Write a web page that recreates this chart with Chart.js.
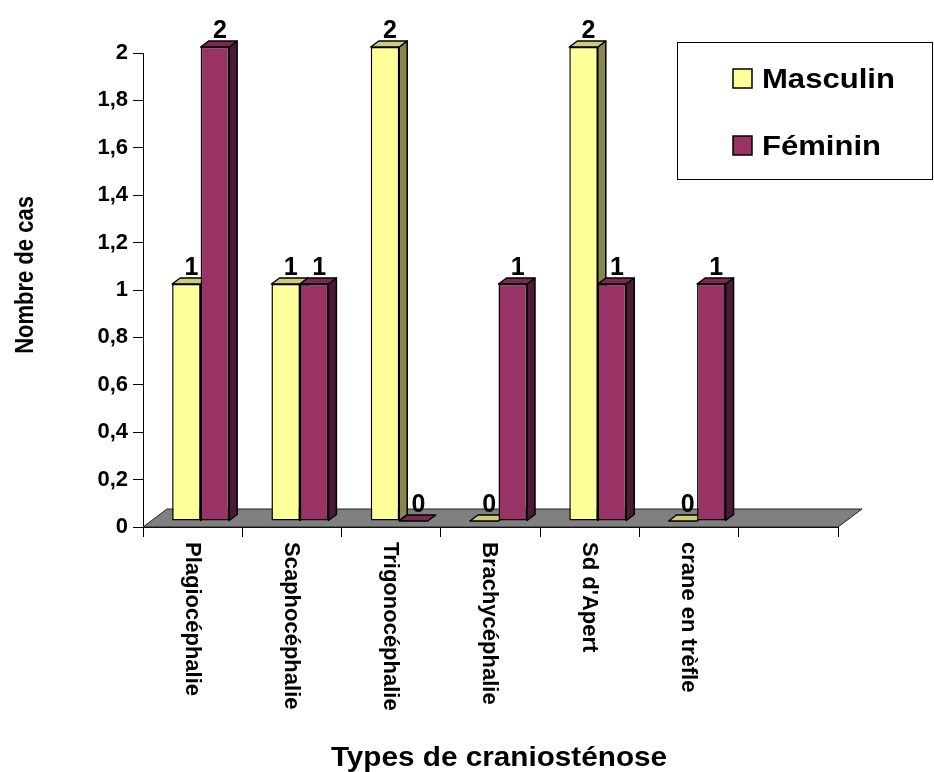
<!DOCTYPE html>
<html><head><meta charset="utf-8">
<script src="https://cdn.jsdelivr.net/npm/chart.js@4"></script>
<style>html,body{margin:0;padding:0;background:#fff}#wrap{width:934px;height:772px;position:relative}</style>
</head><body><div id="wrap"><canvas id="c"></canvas></div>
<script>
// ---- data ----
const categories = ['Plagiocéphalie', 'Scaphocéphalie', 'Trigonocéphalie', 'Brachycéphalie', "Sd d'Apert", 'crane en trèfle', ''];
const masculin = [1, 1, 2, 0, 2, 0, null];
const feminin = [2, 1, 0, 1, 1, 1, null];
const seriesNames = ['Masculin', 'Féminin'];
const yTickLabels = ['0', '0,2', '0,4', '0,6', '0,8', '1', '1,2', '1,4', '1,6', '1,8', '2'];
const xTitle = 'Types de craniosténose';
const yTitle = 'Nombre de cas';

// ---- style ----
const FONT = "'Liberation Sans', Arial, sans-serif";
const DX = 8, DY = -6;      // bar depth
const FDX = 24, FDY = -18;  // floor depth

function poly(ctx, pts, fill) {
  ctx.beginPath();
  ctx.moveTo(pts[0][0], pts[0][1]);
  for (let i = 1; i < pts.length; i++) ctx.lineTo(pts[i][0], pts[i][1]);
  ctx.closePath();
  ctx.fillStyle = fill; ctx.fill();
  ctx.strokeStyle = '#000'; ctx.lineWidth = 1.5; ctx.lineJoin = 'round'; ctx.stroke();
}
function stretchText(ctx, t, x, y, sx) {
  ctx.save(); ctx.translate(x, y); ctx.scale(sx, 1); ctx.fillText(t, 0, 0); ctx.restore();
}

const pseudo3d = {
  id: 'pseudo3d',
  beforeDatasetsDraw(chart) {
    const ctx = chart.ctx, a = chart.chartArea;
    ctx.save();
    ctx.beginPath();
    ctx.moveTo(a.left, a.bottom); ctx.lineTo(a.right, a.bottom);
    ctx.lineTo(a.right + FDX, a.bottom + FDY); ctx.lineTo(a.left + FDX, a.bottom + FDY);
    ctx.closePath();
    ctx.fillStyle = '#808080'; ctx.fill();
    ctx.strokeStyle = '#222'; ctx.lineWidth = 1; ctx.stroke();
    ctx.restore();
    ctx.save();
    ctx.translate(DX, DY);
    const n = chart.data.labels.length;
    for (let i = 0; i < n; i++) {
      chart.data.datasets.forEach((ds, di) => {
        const el = chart.getDatasetMeta(di).data[i];
        if (!el || ds.data[i] == null) return;
        const { x, y, base, width } = el.getProps(['x', 'y', 'base', 'width'], true);
        const l = x - width / 2, r = x + width / 2;
        if (base - y > 0.5) poly(ctx, [[r, y], [r + DX, y + DY], [r + DX, base + DY], [r, base]], ds.sideColor);
        poly(ctx, [[l, y], [l + DX, y + DY], [r + DX, y + DY], [r, y]], ds.topColor);
      });
    }
  },
  afterDatasetsDraw(chart) {
    const ctx = chart.ctx;
    ctx.font = `bold 25px ${FONT}`;
    ctx.fillStyle = '#000';
    ctx.textAlign = 'center';
    ctx.textBaseline = 'alphabetic';
    chart.data.datasets.forEach((ds, di) => {
      chart.getDatasetMeta(di).data.forEach((el, i) => {
        const v = ds.data[i];
        if (v == null) return;
        const { x, y } = el.getProps(['x', 'y'], true);
        ctx.fillText(String(v), x + 5, y + DY - 3);
      });
    });
    ctx.restore();
  },
  afterDraw(chart) {
    const ctx = chart.ctx, xs = chart.scales.x;
    ctx.save();
    ctx.fillStyle = '#000';
    ctx.font = `bold 22px ${FONT}`;
    chart.data.labels.forEach((lab, i) => {
      if (!lab) return;
      ctx.save();
      ctx.translate(xs.getPixelForValue(i) - 1, 542);
      ctx.rotate(Math.PI / 2);
      ctx.textAlign = 'left'; ctx.textBaseline = 'middle';
      ctx.fillText(lab, 0, 0);
      ctx.restore();
    });
    ctx.font = `bold 27px ${FONT}`;
    ctx.textAlign = 'center'; ctx.textBaseline = 'alphabetic';
    stretchText(ctx, xTitle, 499, 766, 1.1);
    ctx.save();
    ctx.translate(33, 275);
    ctx.scale(1.2, 1);
    ctx.rotate(-Math.PI / 2);
    ctx.font = `bold 22px ${FONT}`;
    ctx.fillText(yTitle, 0, 0);
    ctx.restore();
    ctx.strokeStyle = '#000'; ctx.lineWidth = 1;
    ctx.strokeRect(677.5, 42.5, 255, 137);
    const ys = [69, 136];
    ctx.font = `bold 27px ${FONT}`;
    ctx.textAlign = 'left';
    chart.data.datasets.forEach((ds, di) => {
      ctx.fillStyle = ds.backgroundColor;
      ctx.fillRect(733, ys[di], 19, 19);
      ctx.strokeStyle = '#000'; ctx.lineWidth = 1.5;
      ctx.strokeRect(733, ys[di], 19, 19);
      ctx.fillStyle = '#000';
      stretchText(ctx, ds.label, 762, ys[di] + 19, 1.15);
    });
    ctx.restore();
  }
};

new Chart(document.getElementById('c'), {
  type: 'bar',
  data: {
    labels: categories,
    datasets: [
      { label: seriesNames[0], data: masculin, backgroundColor: '#FFFF99', topColor: '#CCCC7A', sideColor: '#86864F',
        borderColor: '#000', borderWidth: 1.5, borderSkipped: false, clip: false },
      { label: seriesNames[1], data: feminin, backgroundColor: '#993366', topColor: '#7A2952', sideColor: '#4C1A36',
        borderColor: '#000', borderWidth: 1.5, borderSkipped: false, clip: false }
    ]
  },
  options: {
    responsive: true,
    maintainAspectRatio: false,
    animation: false,
    events: [],
    datasets: { bar: { barPercentage: 1, categoryPercentage: 0.574 } },
    layout: { padding: { top: 53, right: 96, left: 0, bottom: 0 } },
    plugins: { legend: { display: false }, tooltip: { enabled: false }, title: { display: false } },
    scales: {
      x: {
        offset: true,
        grid: { offset: true, drawOnChartArea: false, drawTicks: true, tickLength: 10, color: '#000', lineWidth: 1 },
        border: { display: true, color: '#000', width: 1 },
        ticks: { display: false },
        afterFit(s) { s.height = 772 - 527; }
      },
      y: {
        min: 0, max: 2,
        ticks: { stepSize: 0.2, padding: 5, color: '#000', font: { family: FONT, size: 22, weight: 'bold' },
                 callback: (v, i) => yTickLabels[i] },
        grid: { drawOnChartArea: false, drawTicks: true, tickLength: 10, color: '#000', lineWidth: 1 },
        border: { display: true, color: '#000', width: 1 },
        afterFit(s) { s.width = 143; }
      }
    }
  },
  plugins: [pseudo3d]
});
</script></body></html>
